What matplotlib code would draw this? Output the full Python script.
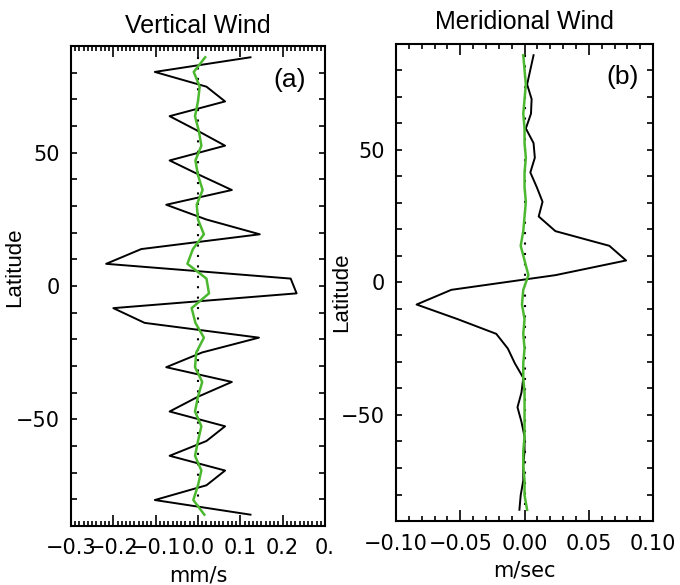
import matplotlib
matplotlib.use('Agg')
import matplotlib.pyplot as plt
from matplotlib.ticker import MultipleLocator

plt.rcParams['font.family'] = ['Liberation Sans', 'DejaVu Sans']

# Gaussian latitudes (north to south)
lat = [85.76, 80.27, 74.74, 69.21, 63.68, 58.14, 52.61, 47.07, 41.53, 35.99,
       30.46, 24.92, 19.38, 13.84, 8.31, 2.77, -2.77, -8.31, -13.84, -19.38,
       -24.92, -30.46, -35.99, -41.53, -47.07, -52.61, -58.14, -63.68, -69.21,
       -74.74, -80.27, -85.76]

# vertical wind (mm/s)
w_black = [0.124, -0.102, 0.02, 0.064, -0.067, 0.0, 0.064, -0.067, 0.005, 0.08,
           -0.075, 0.02, 0.146, -0.134, -0.217, 0.219, 0.233, -0.2, -0.126, 0.144,
           0.01, -0.075, 0.08, 0.0, -0.067, 0.064, 0.02, -0.067, 0.064,
           0.02, -0.102, 0.124]
w_green = [0.017, -0.01, 0.004, 0.0, -0.007, 0.002, 0.008, -0.006, 0.0, 0.011,
           -0.003, 0.0, 0.014, -0.012, -0.025, 0.02, 0.026, -0.015, -0.006, 0.014,
           -0.004, -0.007, 0.01, 0.0, -0.007, 0.008, 0.0, -0.007, 0.008,
           0.0, -0.011, 0.015]

# meridional wind (m/sec)
v_black = [0.007, 0.0045, 0.002, 0.0055, 0.005, 0.001, 0.007, 0.008, 0.0045, 0.0095,
           0.014, 0.011, 0.024, 0.066, 0.079, 0.024, -0.057, -0.084, -0.052, -0.022,
           -0.013, -0.0076, -0.001, -0.0024, -0.0055, -0.0024, 0.0, 0.0, -0.001,
           -0.001, -0.003, -0.004]
v_green = [-0.001, 0.0, 0.001, 0.0, -0.001, 0.0, 0.0, 0.001, 0.0, 0.0,
           0.001, 0.0, -0.001, -0.003, 0.0, 0.003, -0.001, -0.002, 0.0, -0.001,
           0.0, -0.001, -0.001, 0.0, 0.0, 0.0, 0.0, -0.001, -0.001,
           0.0, 0.0, 0.002]

xticks_a = [-0.3, -0.2, -0.1, 0.0, 0.1, 0.2, 0.3]
xlabels_a = ['\u22120.3', '\u22120.2', '\u22120.1', '0.0', '0.1', '0.2', '0.']
xticks_b = [-0.10, -0.05, 0.0, 0.05, 0.10]
xlabels_b = ['\u22120.10', '\u22120.05', '0.00', '0.05', '0.10']
yticks = [-50, 0, 50]
ylabels = ['\u221250', '0', '50']

green = '#4cb830'

fig = plt.figure(figsize=(6.8, 5.85), dpi=100)
ax1 = fig.add_axes([0.1044, 0.1009, 0.3735, 0.8205])
ax2 = fig.add_axes([0.5824, 0.1094, 0.378, 0.8154])


def style(ax, xticks, xlabels, minor):
    ax.set_ylim(-90, 90)
    ax.set_xticks(xticks)
    ax.set_xticklabels(xlabels, family='DejaVu Sans')
    ax.xaxis.set_minor_locator(MultipleLocator(minor))
    ax.set_yticks(yticks)
    ax.set_yticklabels(ylabels, family='DejaVu Sans')
    ax.yaxis.set_minor_locator(MultipleLocator(10))
    ax.tick_params(which='both', direction='in', top=True, right=True,
                   labelsize=15, width=1.2)
    ax.tick_params(axis='x', which='major', length=8, pad=9)
    ax.tick_params(axis='x', which='minor', length=3.5)
    ax.tick_params(axis='y', which='both', length=4.5, pad=8)
    for s in ax.spines.values():
        s.set_linewidth(1.5)


# (a) vertical wind
ax1.plot([0, 0], [lat[0], lat[-1]], color='black', linestyle=(0, (1, 4)), lw=1.5)
ax1.plot(w_black, lat, color='black', lw=1.4)
ax1.plot(w_green, lat, color=green, lw=1.8)
ax1.set_xlim(-0.3, 0.3)
style(ax1, xticks_a, xlabels_a, 0.01)
ax1.set_xlabel('mm/s', fontsize=15, family='DejaVu Sans', labelpad=5)
ax1.set_ylabel('Latitude', fontsize=16)
ax1.yaxis.set_label_coords(-0.18, 0.54)
ax1.set_title('Vertical Wind', fontsize=18, pad=9)
ax1.text(0.86, 0.93, '(a)', transform=ax1.transAxes, fontsize=19,
         ha='center', va='center')

# (b) meridional wind
ax2.plot([0, 0], [lat[0], lat[-1]], color='black', linestyle=(0, (1, 4)), lw=1.5)
ax2.plot(v_black, lat, color='black', lw=1.4)
ax2.plot(v_green, lat, color=green, lw=1.8)
ax2.set_xlim(-0.1, 0.1)
style(ax2, xticks_b, xlabels_b, 0.01)
ax2.set_xlabel('m/sec', fontsize=15, family='DejaVu Sans', labelpad=5)
ax2.set_ylabel('Latitude', fontsize=16)
ax2.yaxis.set_label_coords(-0.17, 0.48)
ax2.set_title('Meridional Wind', fontsize=18, pad=11)
ax2.text(0.88, 0.93, '(b)', transform=ax2.transAxes, fontsize=19,
         ha='center', va='center')

fig.savefig('out.png', dpi=100)
